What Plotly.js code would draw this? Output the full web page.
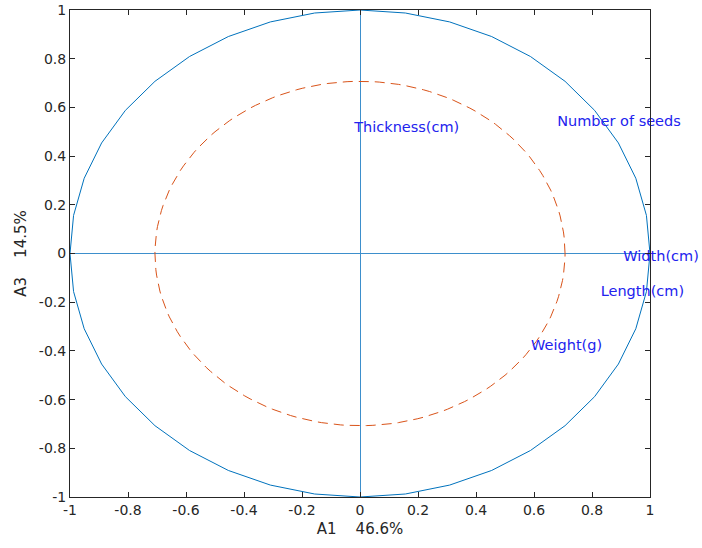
<!DOCTYPE html>
<html>
<head>
<meta charset="utf-8">
<script src="https://cdn.plot.ly/plotly-3.0.1.min.js"></script>
<style>html,body{margin:0;padding:0;background:#fff;}#chart{width:702px;height:548px;}</style>
</head>
<body>
<div id="chart"></div>
<script>
// Variable labels and their loadings (A1, A3)
const varNames = ["Thickness(cm)", "Number of seeds", "Width(cm)", "Length(cm)", "Weight(g)"];
const loadA1 = [-0.02, 0.68, 0.908, 0.83, 0.59];
const loadA3 = [0.515, 0.54, -0.015, -0.16, -0.38];
// Reference circles
const circleRadii = [1, 0.7071];
const circleSegments = [40, 200];
const tickVals = [-1, -0.8, -0.6, -0.4, -0.2, 0, 0.2, 0.4, 0.6, 0.8, 1];
const tickText = ["-1", "-0.8", "-0.6", "-0.4", "-0.2", "0", "0.2", "0.4", "0.6", "0.8", "1"];

function circlePts(r, n) {
  const xs = [], ys = [];
  for (let i = 0; i <= n; i++) {
    const t = 2 * Math.PI * i / n;
    xs.push(r * Math.cos(t)); ys.push(r * Math.sin(t));
  }
  return [xs, ys];
}
const c1 = circlePts(circleRadii[0], circleSegments[0]);
const c2 = circlePts(circleRadii[1], circleSegments[1]);
const FONT = 'DejaVu Sans, Verdana, sans-serif';

const traces = [
  {x: c1[0], y: c1[1], mode: 'lines', line: {color: '#0072BD', width: 1}, hoverinfo: 'skip'},
  {x: c2[0], y: c2[1], mode: 'lines', line: {color: '#D95319', width: 1, dash: '10px,6px'}, hoverinfo: 'skip'},
  {x: loadA1, y: loadA3, mode: 'text', text: varNames, textposition: 'middle right', cliponaxis: false,
   textfont: {family: FONT, size: 14.5, color: '#2222ee'}, hoverinfo: 'skip'}
];

const axisCommon = {
  range: [-1, 1], tickvals: tickVals, ticktext: tickText,
  ticks: 'inside', ticklen: 5, tickcolor: '#262626', tickwidth: 1,
  showline: true, linecolor: '#262626', linewidth: 1, mirror: 'ticks',
  showgrid: false, zeroline: true, zerolinecolor: '#3d8fcc', zerolinewidth: 1,
  tickfont: {family: FONT, size: 14, color: '#262626'},
  fixedrange: true
};

const layout = {
  width: 702, height: 548,
  margin: {l: 70, r: 52, t: 10, b: 51},
  paper_bgcolor: '#fff', plot_bgcolor: '#fff',
  showlegend: false,
  xaxis: Object.assign({}, axisCommon, {
    title: {text: 'A1\u00a0\u00a0\u00a0\u00a046.6%', standoff: 6,
      font: {family: FONT, size: 15, color: '#262626'}}
  }),
  yaxis: Object.assign({}, axisCommon, {
    title: {text: 'A3\u00a0\u00a0\u00a0\u00a014.5%', standoff: 8,
      font: {family: FONT, size: 15, color: '#262626'}}
  })
};

Plotly.newPlot('chart', traces, layout, {staticPlot: true, displayModeBar: false});
</script>
</body>
</html>
